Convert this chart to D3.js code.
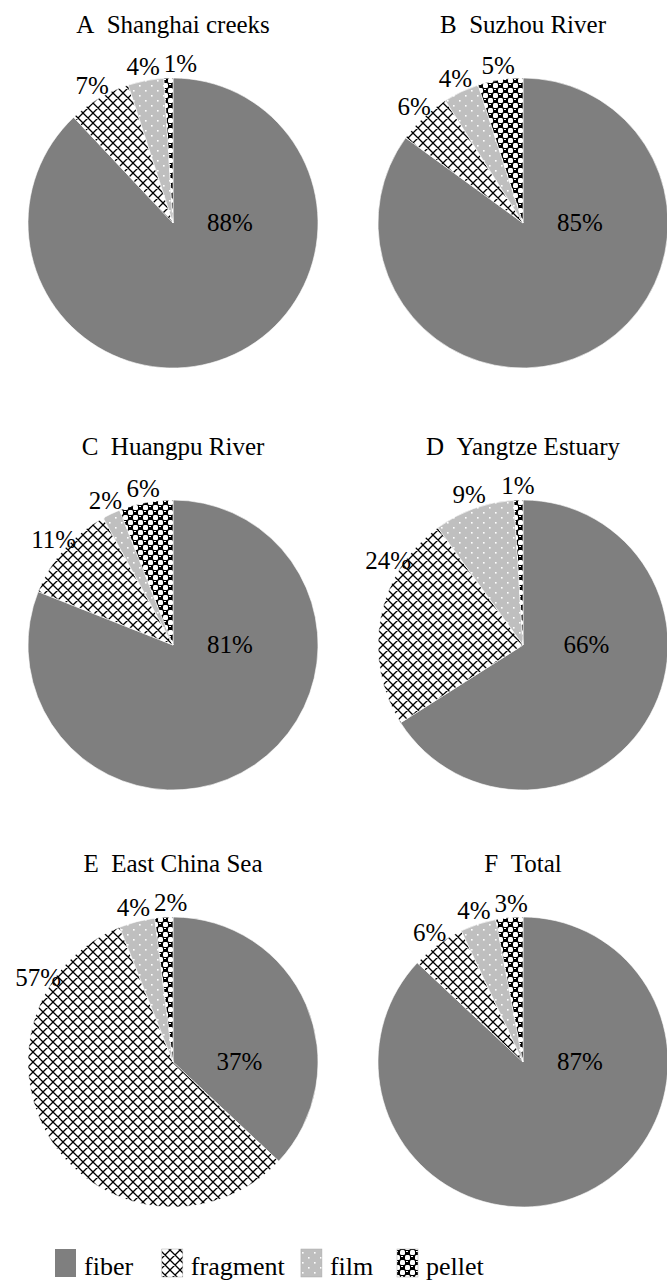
<!DOCTYPE html>
<html><head><meta charset="utf-8"><script src="https://cdn.jsdelivr.net/npm/d3@7"></script>
<style>
@font-face { font-family: "ChartSerif"; src: local("Liberation Serif"), local("LiberationSerif"), local("LiberationSerif-Regular"), local("Tinos"), local("Times New Roman"); }
</style>
</head>
<body style="margin:0">
<svg id="s" width="667" height="1280"></svg>
<script>
// ---- data ----
const categories = ["fiber", "fragment", "film", "pellet"];
const panelTitles = ["A\u00a0\u00a0Shanghai creeks", "B\u00a0\u00a0Suzhou River", "C\u00a0\u00a0Huangpu River",
                     "D\u00a0\u00a0Yangtze Estuary", "E\u00a0\u00a0East China Sea", "F\u00a0\u00a0Total"];
const shanghaiCreeks = [88, 7, 4, 1];
const suzhouRiver    = [85, 6, 4, 5];
const huangpuRiver   = [81, 11, 2, 6];
const yangtzeEstuary = [66, 24, 9, 1];
const eastChinaSea   = [37, 57, 4, 2];
const totalShares    = [87, 6, 4, 3];
const panelValues = [shanghaiCreeks, suzhouRiver, huangpuRiver, yangtzeEstuary, eastChinaSea, totalShares];

// ---- layout ----
const R = 145;
const colX = [173, 523];
const rowY = [223, 645, 1062];
const FONT = '"Liberation Serif", "ChartSerif", "Times New Roman", monospace';

// approximate Times-metric text width (em units per glyph)
const glyphEm = ch => ("0123456789".includes(ch) ? 0.5 : ch === "%" ? 0.833 : 0.45);
const textWidth = (s, size) => Array.from(s).reduce((acc, ch) => acc + glyphEm(ch), 0) * size;

const svg = d3.select("#s");
const defs = svg.append("defs");

// patterns
const pFrag = defs.append("pattern").attr("id", "p-fragment")
  .attr("patternUnits", "userSpaceOnUse").attr("width", 10).attr("height", 10);
pFrag.append("rect").attr("width", 10).attr("height", 10).attr("fill", "#fff");
pFrag.append("path").attr("d", "M0,0L10,10M10,0L0,10M-1,9L1,11M9,-1L11,1M-1,1L1,-1M9,11L11,9")
  .attr("stroke", "#000").attr("stroke-width", 1.3).attr("fill", "none");

const pFilm = defs.append("pattern").attr("id", "p-film")
  .attr("patternUnits", "userSpaceOnUse").attr("width", 12).attr("height", 10);
pFilm.append("rect").attr("width", 12).attr("height", 10).attr("fill", "#bfbfbf");
pFilm.append("rect").attr("x", 2).attr("y", 2).attr("width", 1.6).attr("height", 1.6).attr("fill", "#fff");
pFilm.append("rect").attr("x", 8).attr("y", 7).attr("width", 1.6).attr("height", 1.6).attr("fill", "#fff");

const pPellet = defs.append("pattern").attr("id", "p-pellet")
  .attr("patternUnits", "userSpaceOnUse").attr("width", 10).attr("height", 10);
pPellet.append("rect").attr("width", 10).attr("height", 10).attr("fill", "#000");
pPellet.append("rect").attr("x", 0).attr("y", 0).attr("width", 5).attr("height", 5).attr("rx", 1.5).attr("fill", "#fff");
pPellet.append("rect").attr("x", 5).attr("y", 5).attr("width", 5).attr("height", 5).attr("rx", 1.5).attr("fill", "#fff");
pPellet.append("rect").attr("x", 6).attr("y", 1).attr("width", 2).attr("height", 1).attr("fill", "#fff");
pPellet.append("rect").attr("x", 1).attr("y", 6).attr("width", 2).attr("height", 1).attr("fill", "#fff");

const fillScale = d3.scaleOrdinal()
  .domain(categories)
  .range(["#7f7f7f", "url(#p-fragment)", "url(#p-film)", "url(#p-pellet)"]);

const pie = d3.pie().sort(null).value(d => d.value);
const arc = d3.arc().innerRadius(0).outerRadius(R);

panelValues.forEach((vals, i) => {
  const cx = colX[i % 2], cy = rowY[Math.floor(i / 2)];
  const data = vals.map((v, k) => ({ cat: categories[k], value: v }));
  const arcs = pie(data);

  svg.append("g").attr("transform", `translate(${cx},${cy})`)
    .selectAll("path").data(arcs).enter().append("path")
    .attr("d", arc)
    .attr("fill", d => fillScale(d.data.cat))
    .attr("stroke", "#fff").attr("stroke-width", 0.6);

  // title
  svg.append("text")
    .attr("x", cx).attr("y", cy - 190)
    .attr("text-anchor", "middle")
    .style("font-family", FONT)
    .attr("font-size", 25)
    .text(panelTitles[i]);

  // labels
  let prevRight = -Infinity, prevY = null;
  arcs.forEach((a, k) => {
    let x, y;
    const label = a.data.value + "%";
    const w = textWidth(label, 25);
    const mid = (a.startAngle + a.endAngle) / 2;
    if (k === 0) {
      const c = arc.centroid(a);
      x = Math.max(57, c[0]);
      y = 0;
    } else {
      const ang = Math.max(mid, 302 * Math.PI / 180);
      const dist = R + 14;
      x = dist * Math.sin(ang);
      y = -dist * Math.cos(ang);
      if (prevY !== null && Math.abs(y - prevY) < 22 && x - w / 2 < prevRight + 4) {
        x = prevRight + 4 + w / 2;
      }
      prevRight = x + w / 2;
      prevY = y;
    }
    svg.append("text")
      .attr("x", cx + x).attr("y", cy + y + 8)
      .attr("text-anchor", "middle")
      .style("font-family", FONT)
      .attr("font-size", 25)
      .text(label);
  });
});

// legend
let lx = 55;
categories.forEach(c => {
  svg.append("rect")
    .attr("x", lx).attr("y", 1249).attr("width", 21).attr("height", 28)
    .attr("fill", fillScale(c))
    .attr("stroke", c === "fiber" ? "none" : "#aaa").attr("stroke-width", 0.5);
  svg.append("text")
    .attr("x", lx + 21 + 8).attr("y", 1275)
    .style("font-family", FONT)
    .attr("font-size", 26)
    .text(c);
  lx = lx + 21 + 8 + textWidth(c, 26) * 0.92 + 24;
});
</script>
</body>
</html>
